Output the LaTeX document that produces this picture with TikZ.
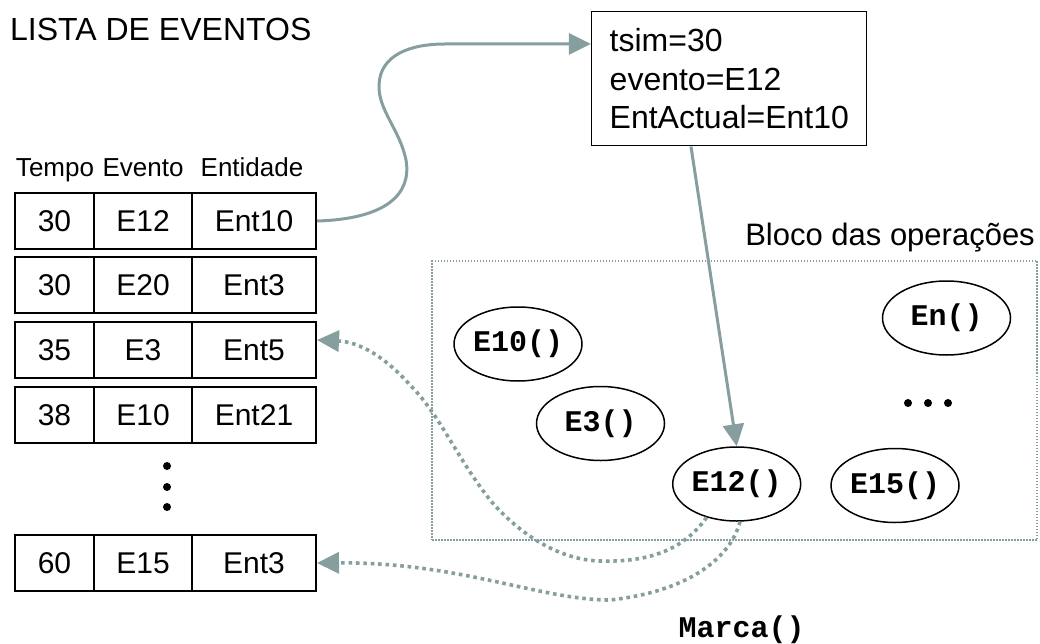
\documentclass[tikz,border=0pt]{standalone}
\usepackage{fontspec}
\setmainfont{Liberation Sans}
\newfontfamily\codefont{Liberation Mono}
\usetikzlibrary{arrows.meta,shapes.geometric,calc}
\definecolor{linkgray}{RGB}{134,158,158}

\begin{document}
\begin{tikzpicture}[x=1pt,y=-1pt,
  cell/.style={draw, line width=2pt, minimum height=56, inner sep=0,
    font=\fontsize{30}{36}\selectfont},
  op/.style={ellipse, draw, line width=1.5pt, minimum width=128,
    minimum height=74, inner sep=0,
    font=\codefont\bfseries\fontsize{30}{36}\selectfont},
  head/.style={anchor=base, inner sep=0, font=\fontsize{26}{30}\selectfont},
  flow/.style={draw=linkgray, line width=3pt,
    -{Triangle[length=22pt,width=21pt]}},
  back/.style={flow, line width=3.6pt, dash pattern=on 3.6pt off 3.8pt},
  dotmark/.style={fill=black}]
\useasboundingbox (0,0) rectangle (1040,644);

% title
\node[anchor=base west, inner sep=0, font=\fontsize{32}{38}\selectfont]
  (title) at (10,41) {LISTA DE EVENTOS};

% column headings
\node[head] (hT) at (55,177) {Tempo};
\node[head] (hE) at (143,177) {Evento};
\node[head] (hN) at (252,177) {Entidade};

% event list rows
\foreach \r/\y/\t/\e/\n in {1/221/30/E12/Ent10, 2/285/30/E20/Ent3,
    3/350/35/E3/Ent5, 4/415/38/E10/Ent21, 5/563/60/E15/Ent3} {
  \node[cell, minimum width=79]  (t\r) at (54.5,\y) {\t};
  \node[cell, minimum width=98]  (e\r) at (143,\y)  {\e};
  \node[cell, minimum width=124] (n\r) at (254,\y)  {\n};
}
\fill[dotmark] (167,466) circle (4pt) (167,487) circle (4pt) (167,507) circle (4pt);

% current state box
\node[draw, line width=1.5pt, minimum width=275, minimum height=134,
  text width=239, inner xsep=18, align=left,
  font=\fontsize{32}{38.5}\selectfont] (box) at (729.2,78.7)
  {tsim=30\\evento=E12\\EntActual=Ent10};

% block of operations
\node[anchor=base east, inner sep=0, font=\fontsize{31}{36}\selectfont]
  (blocklabel) at (1035,245) {Bloco das operações};
\node[draw=linkgray, line width=1.3pt, dash pattern=on 1.5pt off 1.5pt,
  minimum width=605, minimum height=279, inner sep=0] (block) at (734.5,400.5) {};

\node[op] (E10) at (518,344) {E10()};
\node[op] (E3)  at (600.5,423.5) {E3()};
\node[op] (E12) at (736.7,484) {E12()};
\node[op] (E15) at (895,485.5) {E15()};
\node[op] (En)  at (946.5,318) {En()};
\fill[dotmark] (908,403) circle (4pt) (928,403) circle (4pt) (948,403) circle (4pt);

\node[anchor=base, inner sep=0, font=\codefont\bfseries\fontsize{30}{36}\selectfont]
  (marca) at (741.5,637) {Marca()};

% connectors
\draw[flow] (n1.east) .. controls (385,219) and (412,195) .. (406,160)
  .. controls (400,130) and (378,110) .. (379,85)
  .. controls (380,55) and (410,44) .. (445,44)
  -- ($(box.north west)+(0,33)$);

\draw[flow] ($(box.south west)+(100,0)$) -- (E12.north);

\draw[back] (E12.228) .. controls (680,555) and (640,562) .. (600,561)
  .. controls (560,560) and (520,535) .. (490,500)
  .. controls (455,455) and (440,415) .. (410,385)
  .. controls (385,357) and (360,342) .. ($(n3.east)+(0,-10)$);

\draw[back] (E12.275) .. controls (730,560) and (685,592) .. (610,600)
  .. controls (540,600) and (460,562) .. (n5.east);
\end{tikzpicture}
\end{document}
